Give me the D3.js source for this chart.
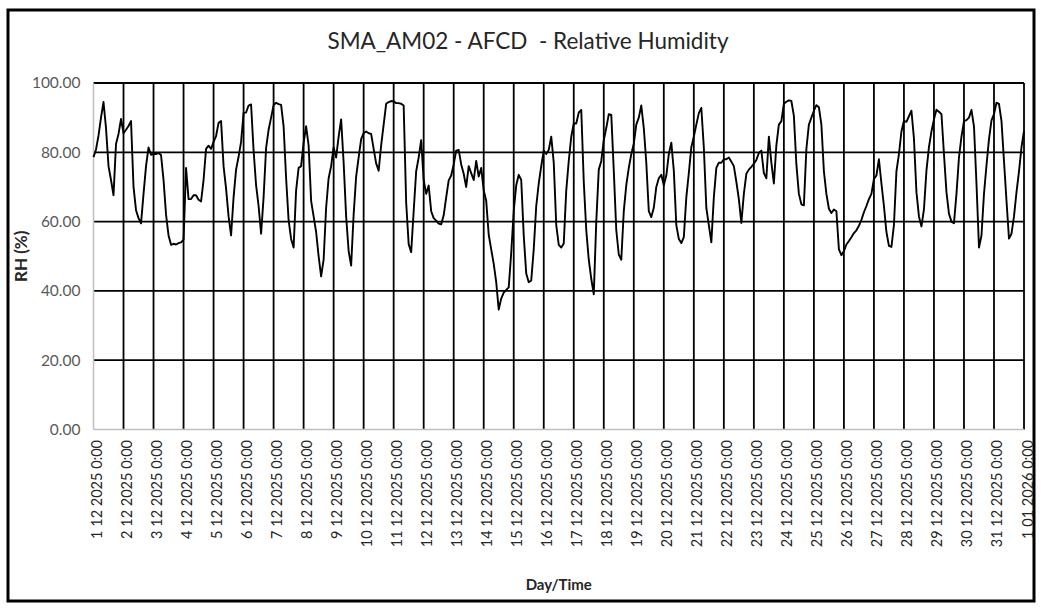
<!DOCTYPE html>
<html>
<head>
<meta charset="utf-8">
<script src="https://cdn.jsdelivr.net/npm/d3@7"></script>
<style>
  html, body { margin: 0; padding: 0; background: #fff; }
  svg { display: block; font-family: Lato, Carlito, "Liberation Sans", sans-serif; }
</style>
</head>
<body>
<svg id="chart" width="1041" height="608"></svg>
<script>
// Relative humidity log, station SMA_AM02, December 2025 (2-hourly readings)
const chartTitle = "SMA_AM02 - AFCD  - Relative Humidity";
const yTitle = "RH (%)";
const xTitle = "Day/Time";
const startTime = new Date(2025, 11, 1, 0, 0);
const endTime = new Date(2026, 0, 1, 0, 0);
const stepHours = 2;
const yTickValues = [0, 20, 40, 60, 80, 100];

// one row per day: 00:00, 02:00 ... 22:00, then the closing 1 Jan 00:00 reading
const rh = [
  78.6, 80.8, 84.8, 90.0, 94.5, 87.0, 76.0, 72.0, 67.6, 82.4, 85.3, 89.6, // 1 Dec
  85.5, 86.5, 87.6, 89.0, 70.0, 63.3, 61.0, 59.5, 68.0, 76.0, 81.4, 79.3, // 2 Dec
  79.5, 79.5, 79.8, 79.2, 72.0, 62.0, 56.0, 53.3, 53.6, 53.4, 53.8, 54.0, // 3 Dec
  54.8, 75.5, 66.5, 66.5, 67.6, 67.6, 66.3, 65.8, 72.0, 81.0, 81.9, 81.0, // 4 Dec
  83.0, 84.7, 88.5, 89.0, 76.0, 69.5, 61.5, 56.0, 67.0, 75.0, 78.7, 83.0, // 5 Dec
  91.3, 91.5, 93.5, 93.8, 80.5, 70.5, 64.5, 56.5, 67.0, 81.2, 86.5, 90.0, // 6 Dec
  93.6, 94.3, 93.9, 93.7, 87.5, 72.5, 60.4, 55.0, 52.5, 69.0, 75.5, 76.0, // 7 Dec
  82.7, 87.5, 82.0, 66.0, 61.5, 57.0, 50.0, 44.2, 49.0, 64.0, 72.5, 76.0, // 8 Dec
  81.5, 78.5, 84.5, 89.5, 77.0, 61.5, 51.5, 47.3, 62.0, 73.0, 78.5, 83.8, // 9 Dec
  85.5, 86.0, 85.5, 85.3, 81.0, 76.8, 74.7, 82.0, 88.0, 94.0, 94.5, 94.8, // 10 Dec
  94.7, 94.2, 94.2, 94.0, 93.5, 65.5, 53.5, 51.2, 63.0, 74.5, 78.5, 83.5, // 11 Dec
  72.0, 68.0, 70.4, 63.0, 61.0, 60.3, 59.4, 59.2, 61.8, 67.0, 71.9, 73.3, // 12 Dec
  76.5, 80.5, 80.7, 76.5, 73.8, 70.0, 76.0, 74.0, 72.0, 77.5, 73.0, 75.5, // 13 Dec
  69.0, 66.0, 56.2, 52.0, 47.8, 42.5, 34.6, 37.8, 39.5, 40.3, 41.0, 51.0, // 14 Dec
  63.0, 70.5, 73.5, 72.0, 56.0, 45.0, 42.5, 43.0, 52.0, 64.5, 71.0, 76.0, // 15 Dec
  80.5, 79.5, 80.7, 84.5, 77.0, 59.0, 53.3, 52.5, 53.7, 69.0, 77.5, 84.5, // 16 Dec
  88.3, 88.3, 91.5, 92.2, 71.5, 57.5, 49.0, 43.5, 39.0, 60.0, 75.0, 77.5, // 17 Dec
  83.5, 87.0, 91.0, 90.8, 74.7, 57.5, 50.5, 49.0, 63.0, 70.5, 75.5, 79.5, // 18 Dec
  82.5, 88.0, 90.0, 93.5, 87.0, 77.0, 63.0, 61.3, 64.0, 70.0, 72.5, 73.5, // 19 Dec
  70.5, 73.3, 79.5, 82.8, 74.7, 59.0, 55.0, 53.8, 55.5, 67.0, 74.0, 81.5, // 20 Dec
  84.5, 88.0, 91.3, 92.8, 81.4, 64.0, 59.0, 54.0, 67.0, 75.5, 77.0, 77.0, // 21 Dec
  78.0, 78.0, 78.5, 77.3, 76.0, 71.5, 66.5, 59.6, 68.0, 73.8, 75.0, 75.8, // 22 Dec
  76.7, 77.8, 79.8, 80.5, 74.0, 72.5, 84.5, 77.0, 71.0, 82.0, 88.0, 89.0, // 23 Dec
  94.0, 94.6, 95.0, 94.8, 90.5, 76.5, 68.0, 65.0, 64.7, 81.0, 88.0, 90.0, // 24 Dec
  92.0, 93.6, 93.0, 88.0, 74.5, 68.0, 63.7, 62.5, 63.5, 63.0, 52.0, 50.3, // 25 Dec
  51.5, 53.4, 54.4, 55.5, 56.7, 57.5, 58.8, 60.5, 62.7, 64.5, 66.5, 68.0, // 26 Dec
  72.3, 73.3, 78.0, 71.0, 64.5, 57.0, 53.0, 52.7, 59.0, 74.5, 79.5, 86.0, // 27 Dec
  89.1, 88.8, 90.4, 92.0, 84.0, 68.5, 61.5, 58.6, 63.5, 74.7, 81.5, 86.0, // 28 Dec
  89.5, 92.3, 91.7, 91.0, 79.5, 68.5, 62.3, 60.0, 59.5, 68.0, 78.5, 84.5, // 29 Dec
  89.0, 89.3, 90.0, 92.2, 87.5, 71.0, 52.5, 56.0, 68.0, 76.2, 83.8, 89.2, // 30 Dec
  91.0, 94.3, 94.0, 89.0, 77.5, 66.0, 55.1, 56.5, 61.5, 68.5, 74.5, 81.5, // 31 Dec
  86.2                                                                      // 1 Jan
];

const W = 1041, H = 608;
const plot = { left: 93.5, right: 1024, top: 83, bottom: 429.5 };

const svg = d3.select("#chart");

svg.append("rect").attr("width", W).attr("height", H).attr("fill", "#fff");

// outer chart frame
svg.append("rect")
  .attr("x", 8).attr("y", 10)
  .attr("width", 1026).attr("height", 591)
  .attr("fill", "none").attr("stroke", "#000").attr("stroke-width", 3);

const series = rh.map((v, i) => ({ t: d3.timeHour.offset(startTime, i * stepHours), v }));

const x = d3.scaleTime().domain([startTime, endTime]).range([plot.left, plot.right]);
const y = d3.scaleLinear().domain([0, 100]).range([plot.bottom, plot.top]);

const dayTicks = d3.timeDay.range(startTime, d3.timeDay.offset(endTime, 1));
const fmtTick = d3.timeFormat("%-d %m %Y %-H:%M");

// horizontal grid
svg.append("g")
  .selectAll("line")
  .data(yTickValues.filter(v => v > 0))
  .join("line")
  .attr("x1", plot.left).attr("x2", plot.right)
  .attr("y1", d => y(d)).attr("y2", d => y(d))
  .attr("stroke", "#000").attr("stroke-width", 1.8);

// vertical day grid
svg.append("g")
  .selectAll("line")
  .data(dayTicks.slice(1))
  .join("line")
  .attr("x1", d => x(d)).attr("x2", d => x(d))
  .attr("y1", plot.top).attr("y2", plot.bottom)
  .attr("stroke", "#000").attr("stroke-width", 1.8);

// axis lines
svg.append("line")
  .attr("x1", plot.left).attr("x2", plot.left)
  .attr("y1", plot.top).attr("y2", plot.bottom)
  .attr("stroke", "#bfbfbf").attr("stroke-width", 1.5);
svg.append("line")
  .attr("x1", plot.left).attr("x2", plot.right)
  .attr("y1", plot.bottom).attr("y2", plot.bottom)
  .attr("stroke", "#bfbfbf").attr("stroke-width", 1.5);

// y axis labels
const yAxis = d3.axisLeft(y).tickValues(yTickValues).tickFormat(d3.format(".2f")).tickSize(0).tickPadding(13);
const gy = svg.append("g").attr("transform", `translate(${plot.left},0)`).call(yAxis);
gy.select(".domain").remove();
gy.selectAll("text")
  .attr("font-family", "Lato, Carlito, 'Liberation Sans', sans-serif")
  .attr("font-size", 15.5).attr("fill", "#595959");

// x axis labels (rotated)
const xAxis = d3.axisBottom(x).tickValues(dayTicks).tickFormat(fmtTick).tickSize(0);
const gx = svg.append("g").attr("transform", `translate(0,${plot.bottom})`).call(xAxis);
gx.select(".domain").remove();
gx.selectAll(".tick text")
  .attr("font-family", "Lato, Carlito, 'Liberation Sans', sans-serif")
  .attr("font-size", 14.5).attr("fill", "#262626")
  .attr("text-anchor", "end")
  .attr("dy", null).attr("y", 0)
  .attr("dominant-baseline", "central")
  .attr("transform", "translate(2.5,10.5) rotate(-90)");

// humidity trace
const line = d3.line().x(d => x(d.t)).y(d => y(d.v));
svg.append("path")
  .datum(series)
  .attr("d", line)
  .attr("fill", "none").attr("stroke", "#000")
  .attr("stroke-width", 1.9).attr("stroke-linejoin", "round");

// titles
svg.append("text")
  .attr("x", 528).attr("y", 49)
  .attr("text-anchor", "middle")
  .attr("font-size", 22.5).attr("fill", "#262626")
  .style("white-space", "pre")
  .text(chartTitle);

svg.append("text")
  .attr("transform", `translate(27,${(plot.top + plot.bottom) / 2}) rotate(-90)`)
  .attr("text-anchor", "middle")
  .attr("font-size", 17).attr("font-weight", "bold").attr("fill", "#262626")
  .text(yTitle);

svg.append("text")
  .attr("x", (plot.left + plot.right) / 2).attr("y", 590)
  .attr("text-anchor", "middle")
  .attr("font-size", 15).attr("font-weight", "bold").attr("fill", "#262626")
  .text(xTitle);
</script>
</body>
</html>
